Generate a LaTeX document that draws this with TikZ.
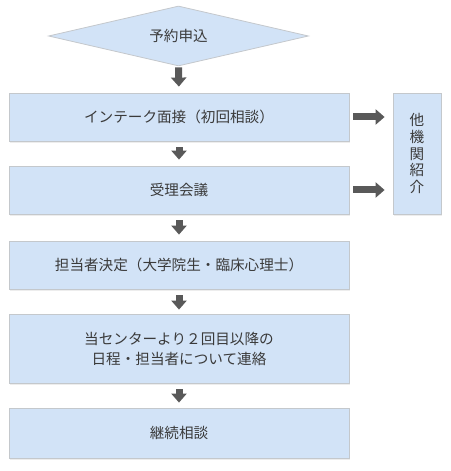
\documentclass[tikz,border=0pt]{standalone}
\usepackage{fontspec}
\setmainfont{Noto Sans CJK JP}
\usetikzlibrary{shapes.geometric,arrows.meta,shadows}
\definecolor{boxfill}{HTML}{D2E3F7}
\definecolor{boxline}{HTML}{C4C8CC}
\definecolor{arrowc}{HTML}{595959}
\definecolor{txt}{HTML}{3A3A3A}
\begin{document}
\begin{tikzpicture}[x=1bp,y=-1bp,
  base/.style={draw=boxline, fill=boxfill, line width=0.8bp, text=txt, inner sep=0pt,
    font=\fontsize{14.6bp}{20bp}\selectfont, align=center},
  box/.style={base, minimum width=340bp,
    drop shadow={shadow xshift=1bp, shadow yshift=-2bp, fill=black!14}},
  blk/.style={draw=arrowc, line width=7bp, -{Triangle[length=9bp,width=15bp]}}]
\useasboundingbox (0,0) rectangle (451,471);
\node[base, diamond, aspect=4.33, minimum width=260bp, minimum height=60bp] (d) at (178.5,36) {予約申込};
\node[box, minimum height=48bp] (b1) at (179,117) {インテーク面接（初回相談）};
\node[box, minimum height=48bp] (b2) at (179,190) {受理会議};
\node[box, minimum height=48bp] (b3) at (179,265) {担当者決定（大学院生・臨床心理士）};
\node[box, minimum height=69bp] (b4) at (179,348.5) {当センターより２回目以降の\\日程・担当者について連絡};
\node[box, minimum height=50bp] (b5) at (179,433) {継続相談};
\node[base, minimum width=48bp, minimum height=121bp, font=\fontsize{14.6bp}{16.75bp}\selectfont,
  drop shadow={shadow xshift=1bp, shadow yshift=-2bp, fill=black!14}] (s) at (417,153.5) {他\\機\\関\\紹\\介};
\draw[blk, shorten <=1bp, shorten >=6bp] (d.south) -- (b1.north);
\draw[blk, shorten <=6bp, shorten >=6bp] (b1.south) -- (b2.north);
\draw[blk, shorten <=6bp, shorten >=6bp] (b2.south) -- (b3.north);
\draw[blk, shorten <=6bp, shorten >=4bp] (b3.south) -- (b4.north);
\draw[blk, shorten <=6bp, shorten >=5bp] (b4.south) -- (b5.north);
\draw[blk, shorten <=4bp, shorten >=8bp] (b1.east) -- (b1.east -| s.west);
\draw[blk, shorten <=4bp, shorten >=8bp] (b2.east) -- (b2.east -| s.west);
\end{tikzpicture}
\end{document}
